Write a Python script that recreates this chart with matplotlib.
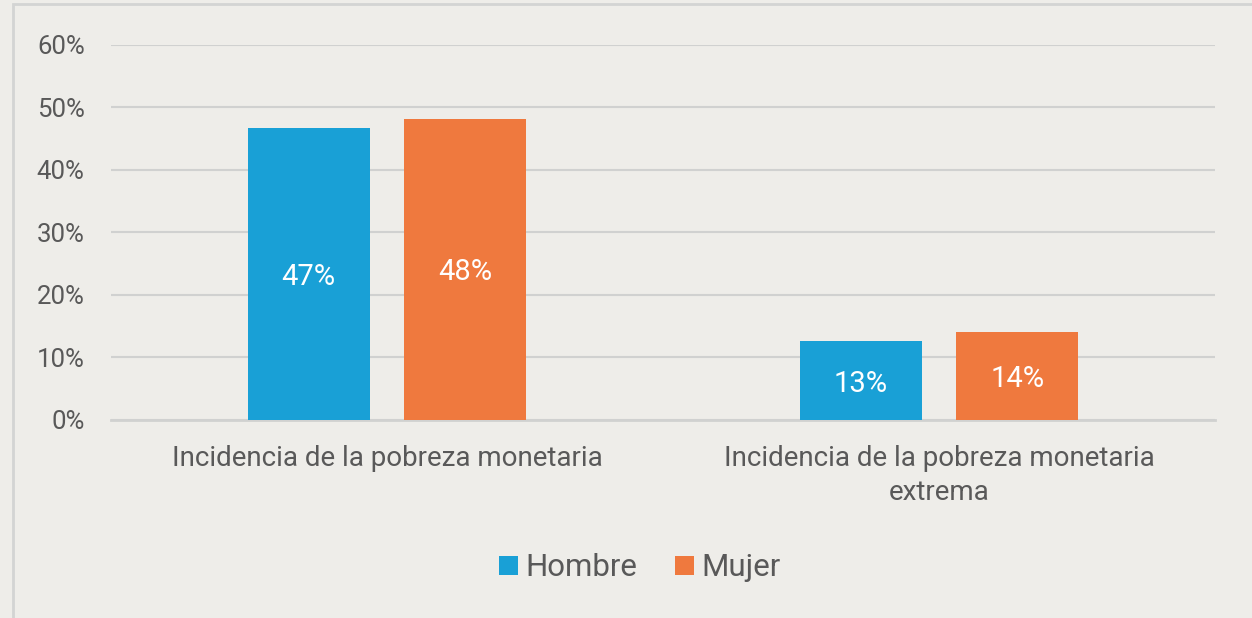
import matplotlib.pyplot as plt
import numpy as np
from matplotlib.patches import Rectangle

# Data
categories = ['Incidencia de la pobreza monetaria',
              'Incidencia de la pobreza monetaria\nextrema']
hombre = [0.467, 0.126]
mujer = [0.482, 0.141]
series_names = ['Hombre', 'Mujer']
yticks = [0, 0.1, 0.2, 0.3, 0.4, 0.5, 0.6]

BG = '#EEEDE9'
BLUE = '#19A0D6'
ORANGE = '#EF793E'
GRID = '#D0D1D0'
TEXT = '#595959'

plt.rcParams['font.family'] = ['Roboto', 'DejaVu Sans']

fig = plt.figure(figsize=(12.52, 6.18), dpi=100, facecolor=BG)
ax = fig.add_axes([0.0887, 0.3204, 0.8817, 0.6068])
ax.set_facecolor(BG)

x = np.arange(len(categories))
width = 0.221
offset = 0.142

bars_h = ax.bar(x - offset, hombre, width, color=BLUE, label=series_names[0], zorder=3)
bars_m = ax.bar(x + offset, mujer, width, color=ORANGE, label=series_names[1], zorder=3)

for bars in (bars_h, bars_m):
    for b in bars:
        h = b.get_height()
        ax.text(b.get_x() + b.get_width() / 2, h / 2, f'{round(h * 100):.0f}%',
                ha='center', va='center_baseline', color='white', fontsize=21, zorder=4)

ax.set_xlim(-0.5, 1.5)
ax.set_ylim(0, 0.6)
ax.set_yticks(yticks)
ax.set_yticklabels([f'{int(round(t * 100))}%' for t in yticks], fontsize=18.5, color=TEXT)
ax.set_xticks(x)
ax.set_xticklabels(categories, fontsize=20, color=TEXT, linespacing=1.35)
ax.tick_params(axis='both', length=0)
ax.tick_params(axis='y', pad=19)
ax.tick_params(axis='x', pad=18)

ax.grid(axis='y', color=GRID, linewidth=1.5, zorder=0)
ax.set_axisbelow(True)
for side in ('top', 'right', 'left'):
    ax.spines[side].set_visible(False)
ax.spines['bottom'].set_color(GRID)
ax.spines['bottom'].set_linewidth(2)
ax.spines['bottom'].set_zorder(2)

fig.legend(loc='center', bbox_to_anchor=(0.511, 0.081), ncol=2, frameon=False,
           fontsize=22.5, handlelength=0.6, handleheight=0.6, handletextpad=0.25,
           columnspacing=1.2, labelcolor=TEXT)

# outer frame (only top and left edges visible in the crop)
fig.patches.append(Rectangle((13 / 1252, -0.05), 1.1, 1 - 4 / 618 + 0.05,
                             transform=fig.transFigure, fill=False,
                             edgecolor='#D3D4D3', linewidth=2, zorder=0))

fig.savefig('out.png', dpi=100, facecolor=BG)
